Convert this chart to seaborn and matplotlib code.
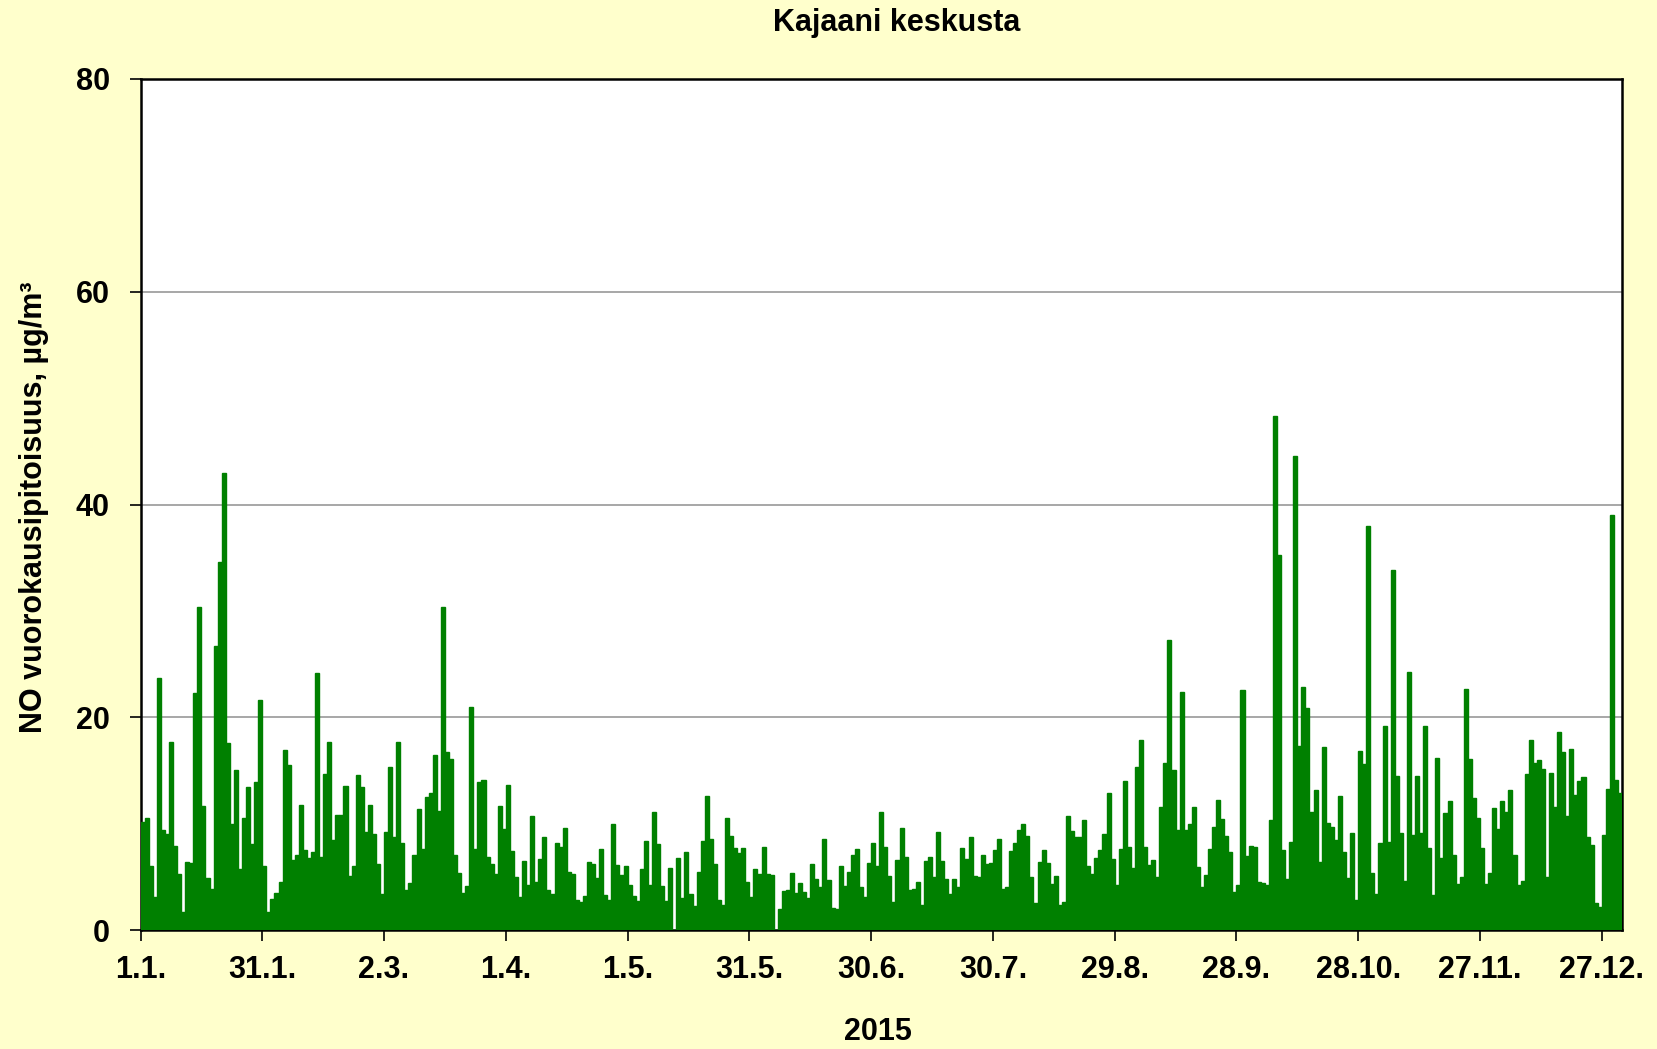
import numpy as np
import pandas as pd
import matplotlib
matplotlib.use('Agg')
import matplotlib.pyplot as plt
import seaborn as sns

# NO-vuorokausipitoisuudet 2015 (luettu kuvasta), µg/m3
jan_feb = [10.2, 10.5, 6.0, 3.1, 23.7, 9.4, 9.0, 17.7, 7.9, 5.3, 1.7, 6.4, 6.3, 22.3, 30.4, 11.7,
           4.9, 3.9, 26.7, 34.6, 43.0, 17.6, 10.0, 15.0, 5.7, 10.5, 13.4, 8.1, 13.9, 21.6, 6.0,
           1.7, 2.9, 3.5, 4.5, 16.9, 15.5, 6.6, 7.1, 11.8, 7.5, 6.8, 7.3, 24.2, 6.9, 14.7,
           17.7, 8.5, 10.8, 10.8, 13.5, 5.1, 6.0, 14.6, 13.4, 9.2, 11.8, 9.0, 6.2, 3.4]
mar_apr = [9.2, 15.3, 8.7, 17.7, 8.2, 3.8, 4.4, 7.1, 11.4, 7.6, 12.5, 12.9, 16.5, 11.2, 30.4,
           16.7, 16.1, 7.1, 5.4, 3.5, 4.1, 21.0, 7.6, 13.9, 14.1, 6.9, 6.2, 5.3, 11.7, 9.5,
           13.6, 7.4, 5.0, 3.1, 6.5, 4.2, 10.7, 4.5, 6.7, 8.7, 3.8, 3.4, 8.2, 7.8, 9.6, 5.5,
           5.3, 2.8, 2.6, 3.2, 6.4, 6.2, 4.9, 7.6, 3.3, 2.8, 10.0, 6.1, 5.2, 6.0]
may_jun = [4.2, 3.2, 2.7, 5.7, 8.4, 4.2, 11.1, 8.1, 4.1, 2.7, 5.8, 0.0, 6.8, 3.0, 7.3, 3.4,
           2.3, 5.5, 8.4, 12.6, 8.6, 6.2, 2.8, 2.4, 10.5, 8.8, 7.7, 7.2, 7.7, 4.5, 3.1, 5.7,
           5.3, 7.8, 5.3, 5.2, 0.0, 2.0, 3.7, 3.8, 5.4, 3.5, 4.4, 3.6, 3.0, 6.2, 4.8, 4.0,
           8.6, 4.7, 2.1, 2.0, 6.0, 4.1, 5.5, 7.1, 7.6, 4.0, 3.1, 6.3]
jul_aug = [8.2, 6.0, 11.1, 7.8, 5.1, 2.6, 6.6, 9.6, 6.9, 3.8, 3.9, 4.5, 2.4, 6.5, 6.9, 5.0,
           9.2, 6.5, 4.8, 3.4, 4.8, 4.0, 7.7, 6.7, 8.7, 5.1, 5.0, 7.1, 6.2, 6.3, 7.5, 8.6,
           3.9, 4.0, 7.4, 8.2, 9.4, 10.0, 8.8, 5.0, 2.5, 6.4, 7.5, 6.3, 4.3, 5.1, 2.4, 2.6,
           10.7, 9.3, 8.7, 8.7, 10.3, 6.0, 5.3, 6.8, 7.5, 9.0, 12.9, 6.7]
sep_oct = [4.2, 7.6, 14.0, 7.8, 5.8, 15.3, 17.9, 7.8, 6.1, 6.6, 5.0, 11.6, 15.7, 27.3, 15.0,
           9.4, 22.4, 9.4, 10.0, 11.6, 5.9, 4.0, 5.2, 7.6, 9.7, 12.2, 10.4, 8.8, 7.3, 3.6,
           4.2, 22.6, 7.0, 7.9, 7.8, 4.5, 4.4, 4.2, 10.3, 48.3, 35.3, 7.5, 4.8, 8.3, 44.6,
           17.3, 22.8, 20.9, 11.1, 13.2, 6.4, 17.2, 10.1, 9.7, 8.5, 12.6, 7.3, 4.9, 9.1, 2.8]
nov_dec = [16.8, 15.6, 38.0, 5.4, 3.4, 8.2, 19.2, 8.3, 33.8, 14.5, 9.1, 4.6, 24.3, 8.9, 14.5,
           9.1, 19.2, 7.7, 3.3, 16.2, 6.8, 11.0, 12.1, 7.1, 4.3, 5.0, 22.7, 16.1, 12.4, 10.5,
           7.7, 4.3, 5.4, 11.5, 9.5, 12.1, 11.1, 13.2, 7.1, 4.2, 4.6, 14.7, 17.9, 15.7, 16.0,
           15.1, 5.0, 14.8, 11.6, 18.6, 16.7, 10.7, 17.0, 12.7, 14.0, 14.4, 8.7, 8.0, 2.5,
           2.2, 8.9, 13.3, 39.0, 14.1, 12.9]

no_values = jan_feb + mar_apr + may_jun + jul_aug + sep_oct + nov_dec
dates = pd.date_range('2015-01-01', periods=len(no_values), freq='D')
df = pd.DataFrame({'paiva': np.arange(len(no_values)), 'NO': no_values})

tick_days = [0, 30, 60, 90, 120, 150, 180, 210, 240, 270, 300, 330, 360]
tick_labels = [f'{dates[d].day}.{dates[d].month}.' for d in tick_days]
y_ticks = [0, 20, 40, 60, 80]

plt.rcParams['font.family'] = ['Liberation Sans', 'DejaVu Sans']
plt.rcParams['font.weight'] = 'bold'

fig = plt.figure(figsize=(16.57, 10.49), dpi=100, facecolor='#FFFFCC')
ax = fig.add_axes([0.0848, 0.1134, 0.8941, 0.8113])
ax.set_facecolor('white')

sns.barplot(data=df, x='paiva', y='NO', color='#008000', saturation=1,
            width=1.0, edgecolor='#008000', linewidth=1.0, ax=ax, zorder=3)

ax.set_xlim(-0.5, len(no_values) - 0.5)
ax.set_ylim(0, 80)
ax.set_yticks(y_ticks)
ax.set_yticklabels([str(v) for v in y_ticks], fontsize=22, fontweight='bold')
ax.set_xticks([d - 0.5 for d in tick_days])
ax.set_xticklabels(tick_labels, fontsize=22, fontweight='bold')
ax.tick_params(axis='x', direction='out', length=8, width=1.2, pad=10, colors='black')
ax.tick_params(axis='y', direction='out', length=8, width=1.2, pad=14, colors='black')
for t in ax.get_xticklines() + ax.get_yticklines():
    t.set_color('#555555')

ax.grid(False)
for y in [20, 40, 60]:
    ax.axhline(y, color='#A0A0A0', lw=1.3, zorder=1)

for s in ax.spines.values():
    s.set_color('black')
    s.set_linewidth(1.8)
ax.set_xlabel('')
ax.set_ylabel('')

fig.text(0.541, 0.978, 'Kajaani keskusta', ha='center', va='center',
         fontsize=22, fontweight='bold')
fig.text(0.53, 0.016, '2015', ha='center', va='center', fontsize=22, fontweight='bold')
fig.text(0.0205, 0.5167, 'NO vuorokausipitoisuus, µg/m³', ha='center', va='center',
         rotation=90, fontsize=22, fontweight='bold')

plt.savefig('out.png', dpi=100, facecolor=fig.get_facecolor())
